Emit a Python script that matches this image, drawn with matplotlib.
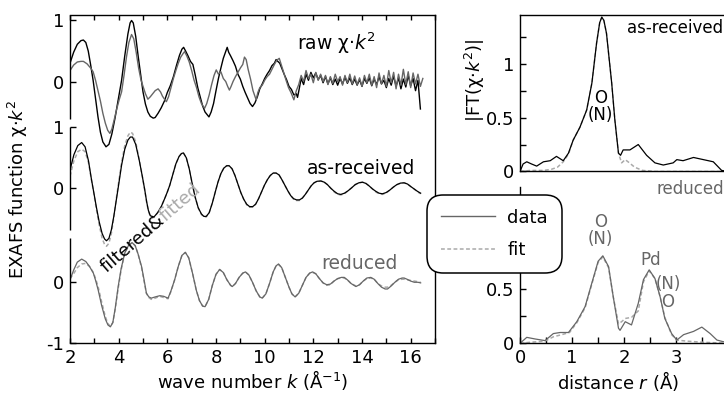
import numpy as np
import matplotlib
matplotlib.use('Agg')
import matplotlib.pyplot as plt
from matplotlib.lines import Line2D
from matplotlib.ticker import MultipleLocator

# ---- data: (k in 1/A, chi*k^2) ----
raw_black = [
    (2.0, 0.30), (2.15, 0.48), (2.3, 0.61), (2.45, 0.67), (2.55, 0.68), (2.65, 0.64), (2.75, 0.50),
    (2.85, 0.27), (2.95, 0.02), (3.05, -0.28), (3.15, -0.58), (3.25, -0.83), (3.35, -0.99), (3.48, -1.07),
    (3.6, -1.03), (3.72, -0.86), (3.85, -0.60), (3.98, -0.30), (4.12, 0.02), (4.25, 0.42), (4.38, 0.78),
    (4.47, 0.96), (4.53, 1.0), (4.6, 0.96), (4.7, 0.74), (4.8, 0.42), (4.9, 0.12), (5.0, -0.17),
    (5.1, -0.37), (5.2, -0.50), (5.3, -0.57), (5.42, -0.60), (5.5, -0.59), (5.62, -0.52), (5.75, -0.43),
    (5.88, -0.32), (6.0, -0.18), (6.12, -0.07), (6.25, 0.08), (6.38, 0.27), (6.5, 0.43), (6.6, 0.53),
    (6.67, 0.56), (6.75, 0.50), (6.85, 0.42), (6.95, 0.33), (7.05, 0.28), (7.15, 0.10), (7.25, -0.10),
    (7.35, -0.25), (7.45, -0.40), (7.55, -0.50), (7.65, -0.55), (7.71, -0.58), (7.8, -0.50), (7.9, -0.36),
    (8.0, -0.15), (8.1, 0.05), (8.2, 0.22), (8.3, 0.38), (8.4, 0.49), (8.46, 0.56), (8.52, 0.48),
    (8.6, 0.42), (8.7, 0.34), (8.8, 0.25), (8.9, 0.12), (9.0, 0.04), (9.1, -0.08), (9.2, -0.18),
    (9.3, -0.27), (9.4, -0.36), (9.5, -0.41), (9.6, -0.35), (9.7, -0.25), (9.8, -0.12), (9.9, -0.04),
    (10.0, 0.05), (10.1, 0.12), (10.2, 0.18), (10.3, 0.26), (10.4, 0.30), (10.47, 0.36), (10.54, 0.33),
    (10.62, 0.30), (10.7, 0.22), (10.8, 0.12), (10.9, 0.03), (11.0, -0.08), (11.1, -0.13), (11.2, -0.22),
    (11.3, -0.20), (11.35, -0.26), (11.42, -0.12),
    (11.5, 0.05), (11.6, -0.05), (11.7, 0.12), (11.8, 0.02), (11.9, 0.15), (12.0, 0.06), (12.1, 0.14),
    (12.2, 0.03), (12.3, 0.10), (12.4, -0.02), (12.5, 0.08), (12.6, -0.04), (12.7, 0.06), (12.8, -0.05),
    (12.9, 0.04), (13.0, -0.06), (13.1, 0.05), (13.2, -0.04), (13.3, 0.07), (13.4, -0.03), (13.5, 0.06),
    (13.6, -0.05), (13.7, 0.04), (13.8, -0.06), (13.9, 0.03), (14.0, -0.08), (14.1, 0.05), (14.2, -0.03),
    (14.3, 0.06), (14.4, -0.07), (14.5, 0.04), (14.6, -0.05), (14.7, 0.08), (14.8, -0.04), (14.9, 0.02),
    (15.0, -0.10), (15.1, 0.05), (15.2, -0.06), (15.3, 0.09), (15.4, -0.08), (15.5, 0.06), (15.6, -0.12),
    (15.7, 0.04), (15.8, -0.09), (15.9, 0.10), (16.0, -0.07), (16.1, 0.05), (16.2, -0.15), (16.3, 0.02),
    (16.4, -0.45),
]

raw_gray = [
    (2.0, 0.18), (2.15, 0.27), (2.3, 0.32), (2.45, 0.33), (2.55, 0.33), (2.7, 0.29), (2.85, 0.22),
    (2.95, 0.16), (3.05, 0.02), (3.15, -0.15), (3.25, -0.32), (3.35, -0.52), (3.45, -0.68), (3.55, -0.80),
    (3.64, -0.85), (3.72, -0.78), (3.82, -0.62), (3.92, -0.45), (4.02, -0.30), (4.12, -0.17), (4.22, 0.10),
    (4.32, 0.40), (4.42, 0.64), (4.53, 0.77), (4.62, 0.70), (4.72, 0.48), (4.82, 0.22), (4.92, 0.02),
    (5.0, -0.08), (5.1, -0.20), (5.2, -0.29), (5.3, -0.25), (5.4, -0.20), (5.5, -0.15), (5.62, -0.12),
    (5.72, -0.17), (5.8, -0.24), (5.9, -0.30), (5.96, -0.33), (6.05, -0.25), (6.15, -0.10), (6.25, 0.05),
    (6.35, 0.18), (6.45, 0.30), (6.55, 0.40), (6.65, 0.46), (6.71, 0.49), (6.8, 0.42), (6.9, 0.32),
    (7.0, 0.18), (7.1, 0.02), (7.2, -0.10), (7.3, -0.25), (7.4, -0.36), (7.53, -0.44), (7.62, -0.36),
    (7.72, -0.22), (7.82, -0.05), (7.92, 0.10), (8.01, 0.19), (8.1, 0.12), (8.2, 0.16), (8.3, 0.05),
    (8.4, 0.00), (8.48, -0.08), (8.55, -0.14), (8.62, -0.08), (8.7, 0.00), (8.8, 0.08), (8.9, 0.15),
    (9.0, 0.22), (9.1, 0.28), (9.17, 0.40), (9.24, 0.36), (9.32, 0.20), (9.42, 0.04), (9.52, -0.15),
    (9.6, -0.24), (9.65, -0.30), (9.72, -0.18), (9.8, -0.10), (9.9, -0.06), (10.0, 0.02), (10.1, 0.08),
    (10.2, 0.12), (10.3, 0.20), (10.4, 0.28), (10.5, 0.35), (10.6, 0.38), (10.68, 0.28), (10.78, 0.15),
    (10.88, 0.02), (10.98, -0.10), (11.08, -0.18), (11.2, -0.30), (11.3, -0.15),
    (11.4, -0.05), (11.5, 0.10), (11.6, 0.0), (11.7, 0.18), (11.8, 0.05), (11.9, 0.12), (12.0, -0.02),
    (12.1, 0.15), (12.2, 0.02), (12.3, 0.12), (12.4, 0.0), (12.5, 0.10), (12.6, -0.05), (12.7, 0.08),
    (12.8, -0.03), (12.9, 0.12), (13.0, 0.0), (13.1, 0.08), (13.2, -0.06), (13.3, 0.10), (13.4, -0.02),
    (13.5, 0.12), (13.6, -0.04), (13.7, 0.09), (13.8, -0.05), (13.9, 0.06), (14.0, -0.08), (14.1, 0.10),
    (14.2, -0.02), (14.3, 0.12), (14.4, -0.06), (14.5, 0.08), (14.6, -0.10), (14.7, 0.14), (14.8, -0.04),
    (14.9, 0.10), (15.0, -0.08), (15.1, 0.18), (15.2, -0.02), (15.3, 0.15), (15.4, -0.12), (15.5, 0.12),
    (15.6, -0.06), (15.7, 0.20), (15.8, -0.05), (15.9, 0.16), (16.0, -0.10), (16.1, 0.14), (16.2, -0.04),
    (16.3, 0.12), (16.4, -0.08), (16.5, 0.05),
]

# as-received, filtered data and fit share one k grid
k_as = [2.0, 2.16, 2.32, 2.48, 2.62, 2.76, 2.88, 2.97, 3.08, 3.2, 3.32, 3.42, 3.5, 3.6, 3.7, 3.8, 3.9,
        4.0, 4.12, 4.25, 4.38, 4.48, 4.57, 4.7, 4.85, 4.97, 5.07, 5.15, 5.22, 5.3, 5.45, 5.6, 5.75, 5.9,
        6.0, 6.1, 6.22, 6.35, 6.48, 6.58, 6.66, 6.78, 6.9, 7.02, 7.14, 7.27, 7.4, 7.5, 7.6, 7.72, 7.85,
        7.97, 8.08, 8.2, 8.32, 8.44, 8.54, 8.66, 8.78, 8.9, 9.02, 9.14, 9.26, 9.38, 9.51, 9.63, 9.75,
        9.87, 9.99, 10.11, 10.23, 10.35, 10.47, 10.59, 10.71, 10.83, 10.95, 11.07, 11.19, 11.31, 11.43,
        11.55, 11.67, 11.79, 11.91, 12.03, 12.15, 12.31, 12.45, 12.58, 12.72, 12.86, 13.0, 13.13, 13.28,
        13.43, 13.58, 13.72, 13.87, 14.02, 14.16, 14.29, 14.43, 14.57, 14.7, 14.84, 14.99, 15.14, 15.29,
        15.43, 15.58, 15.73, 15.87, 16.0, 16.14, 16.28, 16.41]
as_data = [0.30, 0.55, 0.70, 0.75, 0.68, 0.45, 0.15, -0.05, -0.30, -0.55, -0.74, -0.83, -0.86, -0.82,
           -0.68, -0.46, -0.20, 0.06, 0.38, 0.64, 0.79, 0.84, 0.84, 0.72, 0.45, 0.20, -0.02, -0.22, -0.36,
           -0.45, -0.47, -0.40, -0.30, -0.16, -0.06, 0.05, 0.22, 0.40, 0.52, 0.57, 0.58, 0.50, 0.32, 0.08,
           -0.14, -0.32, -0.42, -0.46, -0.46, -0.40, -0.24, -0.06, 0.10, 0.24, 0.33, 0.37, 0.37, 0.32,
           0.21, 0.07, -0.07, -0.18, -0.26, -0.30, -0.30, -0.26, -0.17, -0.06, 0.05, 0.14, 0.21, 0.25,
           0.25, 0.22, 0.14, 0.05, -0.04, -0.12, -0.17, -0.19, -0.19, -0.16, -0.10, -0.03, 0.04, 0.09,
           0.115, 0.12, 0.10, 0.06, 0.0, -0.05, -0.09, -0.10, -0.08, -0.04, 0.01, 0.06, 0.09, 0.10, 0.08,
           0.04, -0.01, -0.05, -0.08, -0.09, -0.07, -0.03, 0.02, 0.06, 0.085, 0.09, 0.07, 0.03, -0.01,
           -0.05, -0.08]
as_fit = [0.20, 0.45, 0.60, 0.64, 0.60, 0.42, 0.14, -0.06, -0.33, -0.60, -0.82, -0.92, -0.95, -0.90,
          -0.74, -0.48, -0.18, 0.10, 0.42, 0.70, 0.86, 0.92, 0.90, 0.76, 0.46, 0.20, -0.03, -0.23, -0.37,
          -0.46, -0.48, -0.40, -0.30, -0.16, -0.06, 0.05, 0.22, 0.40, 0.52, 0.57, 0.58, 0.50, 0.32, 0.08,
          -0.14, -0.32, -0.43, -0.47, -0.47, -0.40, -0.24, -0.06, 0.10, 0.24, 0.33, 0.37, 0.37, 0.32,
          0.21, 0.07, -0.07, -0.18, -0.27, -0.31, -0.31, -0.26, -0.17, -0.06, 0.05, 0.14, 0.21, 0.25,
          0.25, 0.22, 0.14, 0.05, -0.04, -0.12, -0.18, -0.20, -0.20, -0.16, -0.10, -0.03, 0.04, 0.09,
          0.11, 0.12, 0.10, 0.06, 0.0, -0.06, -0.10, -0.11, -0.09, -0.04, 0.01, 0.06, 0.09, 0.10, 0.08,
          0.04, -0.01, -0.06, -0.09, -0.10, -0.08, -0.03, 0.02, 0.06, 0.08, 0.09, 0.07, 0.03, -0.01,
          -0.06, -0.09]

k_red = [2.0, 2.15, 2.3, 2.48, 2.65, 2.8, 2.96, 3.06, 3.16, 3.3, 3.45, 3.56, 3.66, 3.76, 3.86, 3.98,
         4.1, 4.25, 4.4, 4.55, 4.68, 4.8, 4.94, 5.04, 5.14, 5.24, 5.34, 5.5, 5.69, 5.85, 6.03, 6.15, 6.3,
         6.45, 6.6, 6.74, 6.88, 7.04, 7.19, 7.32, 7.45, 7.55, 7.7, 7.85, 8.0, 8.15, 8.3, 8.45, 8.6, 8.67,
         8.8, 8.95, 9.1, 9.21, 9.35, 9.5, 9.65, 9.8, 9.9, 10.05, 10.2, 10.35, 10.47, 10.57, 10.7, 10.85,
         11.0, 11.12, 11.25, 11.4, 11.55, 11.7, 11.85, 11.97, 12.1, 12.25, 12.4, 12.55, 12.7, 12.85, 13.0,
         13.15, 13.27, 13.4, 13.55, 13.75, 13.9, 14.05, 14.2, 14.36, 14.5, 14.65, 14.8, 14.95, 15.05,
         15.2, 15.35, 15.5, 15.65, 15.73, 15.85, 16.0, 16.15, 16.3, 16.41]
red_data = [0.04, 0.20, 0.33, 0.38, 0.34, 0.26, 0.15, 0.02, -0.13, -0.38, -0.60, -0.70, -0.73, -0.66,
            -0.42, -0.07, 0.22, 0.48, 0.60, 0.65, 0.60, 0.46, 0.26, 0.05, -0.18, -0.24, -0.26, -0.24,
            -0.22, -0.23, -0.26, -0.14, 0.04, 0.26, 0.44, 0.49, 0.40, 0.14, -0.13, -0.30, -0.39, -0.40,
            -0.28, -0.05, 0.13, 0.21, 0.16, 0.04, -0.05, -0.07, -0.02, 0.08, 0.15, 0.17, 0.12, 0.0, -0.14,
            -0.24, -0.26, -0.19, -0.02, 0.17, 0.27, 0.30, 0.24, 0.08, -0.08, -0.19, -0.24, -0.18, -0.05,
            0.08, 0.15, 0.17, 0.14, 0.06, -0.01, -0.04, -0.03, 0.02, 0.06, 0.08, 0.08, 0.04, -0.02, -0.07,
            -0.04, 0.02, 0.07, 0.08, 0.05, -0.02, -0.08, -0.11, -0.11, -0.06, 0.0, 0.05, 0.07, 0.07, 0.05,
            0.02, 0.0, 0.0, -0.01]
red_fit = [0.06, 0.14, 0.24, 0.30, 0.31, 0.26, 0.16, 0.05, -0.08, -0.32, -0.56, -0.68, -0.72, -0.66,
           -0.44, -0.10, 0.20, 0.47, 0.60, 0.65, 0.60, 0.46, 0.24, 0.02, -0.18, -0.25, -0.28, -0.26,
           -0.23, -0.25, -0.27, -0.15, 0.04, 0.26, 0.44, 0.49, 0.40, 0.14, -0.13, -0.30, -0.39, -0.40,
           -0.28, -0.05, 0.13, 0.21, 0.16, 0.04, -0.05, -0.07, -0.02, 0.08, 0.15, 0.17, 0.12, 0.0, -0.14,
           -0.24, -0.26, -0.19, -0.02, 0.17, 0.27, 0.29, 0.24, 0.08, -0.08, -0.19, -0.24, -0.18, -0.05,
           0.08, 0.15, 0.16, 0.14, 0.06, -0.01, -0.05, -0.04, 0.02, 0.06, 0.07, 0.07, 0.04, -0.02, -0.06,
           -0.04, 0.02, 0.06, 0.07, 0.05, -0.02, -0.06, -0.08, -0.08, -0.05, 0.0, 0.04, 0.05, 0.05, 0.04,
           0.03, 0.02, 0.01, 0.0]

# Fourier transforms |FT(chi*k^2)| vs r (A)
r_asr = [0, 0.06, 0.13, 0.22, 0.32, 0.45, 0.58, 0.70, 0.83, 0.93, 1.02, 1.15, 1.28, 1.38, 1.47, 1.53,
         1.57, 1.61, 1.66, 1.76, 1.82, 1.89, 1.93, 1.98, 2.11, 2.27, 2.43, 2.59, 2.75, 2.94, 3.01, 3.13,
         3.33, 3.52, 3.71, 3.87, 4.0]
ft_asr = [0.0, 0.07, 0.09, 0.07, 0.05, 0.09, 0.10, 0.14, 0.10, 0.17, 0.29, 0.41, 0.57, 0.82, 1.19, 1.38,
          1.43, 1.40, 1.28, 0.82, 0.48, 0.17, 0.15, 0.20, 0.20, 0.25, 0.15, 0.08, 0.06, 0.08, 0.11, 0.10,
          0.13, 0.11, 0.09, 0.01, 0.0]
r_asr_fit = [0, 0.2, 0.45, 0.6, 0.72, 0.83, 0.93, 1.02, 1.15, 1.28, 1.38, 1.47, 1.53, 1.57, 1.61, 1.66,
             1.76, 1.82, 1.89, 1.95, 2.02, 2.1, 2.2, 2.35, 2.6, 4.0]
ft_asr_fit = [0.0, 0.01, 0.01, 0.02, 0.04, 0.09, 0.16, 0.29, 0.41, 0.57, 0.82, 1.19, 1.38, 1.43, 1.40,
              1.28, 0.82, 0.48, 0.17, 0.08, 0.11, 0.08, 0.04, 0.01, 0.0, 0.0]

r_red = [0, 0.13, 0.29, 0.48, 0.64, 0.77, 0.93, 1.09, 1.25, 1.38, 1.50, 1.59, 1.70, 1.79, 1.89, 1.92,
         2.02, 2.14, 2.27, 2.37, 2.48, 2.59, 2.69, 2.78, 2.91, 3.01, 3.14, 3.33, 3.49, 3.65, 3.78, 3.90, 4.0]
ft_red = [0, 0.055, 0.04, 0.025, 0.09, 0.10, 0.10, 0.20, 0.34, 0.56, 0.76, 0.81, 0.71, 0.43, 0.14, 0.12,
          0.20, 0.17, 0.37, 0.59, 0.68, 0.60, 0.43, 0.23, 0.09, 0.03, 0.08, 0.11, 0.15, 0.09, 0.03, 0.015,
          0.01]
r_red_fit = [0, 0.2, 0.48, 0.64, 0.80, 0.95, 1.09, 1.25, 1.38, 1.50, 1.59, 1.70, 1.79, 1.89, 1.95, 2.02,
             2.14, 2.27, 2.37, 2.48, 2.59, 2.69, 2.78, 2.91, 3.01, 3.2, 3.5, 4.0]
ft_red_fit = [0, 0.01, 0.02, 0.06, 0.08, 0.10, 0.19, 0.33, 0.55, 0.75, 0.80, 0.70, 0.43, 0.18, 0.20, 0.23,
              0.24, 0.30, 0.57, 0.67, 0.60, 0.43, 0.24, 0.08, 0.03, 0.02, 0.01, 0.0]

# vertical offsets of the stacked curves in the left panel
OFF_AS = 1.54
OFF_RAW = 3.29

C_DARK = '#666666'
C_FIT = '#aaaaaa'
FIT_LS = (0, (2.5, 1.6))

plt.rcParams['font.family'] = ['DejaVu Sans']
plt.rcParams['mathtext.fontset'] = 'dejavusans'
plt.rcParams['axes.linewidth'] = 1.0

W, H = 724, 405
fig = plt.figure(figsize=(W / 100, H / 100), dpi=100)


def px(x0, y0, x1, y1):
    # axes rectangle from pixel corners (top-left origin)
    return [x0 / W, 1 - y1 / H, (x1 - x0) / W, (y1 - y0) / H]


# ---- left panel: EXAFS functions ----
ax = fig.add_axes(px(70, 15, 435, 343.3))
kb, vb = zip(*raw_black)
kg, vg = zip(*raw_gray)
ax.plot(kb, np.array(vb) + OFF_RAW, color='k', lw=1.0)
ax.plot(kg, np.array(vg) + OFF_RAW, color=C_DARK, lw=1.0)
ax.plot(k_as, np.array(as_fit) + OFF_AS, color=C_FIT, lw=1.1, ls=FIT_LS)
ax.plot(k_as, np.array(as_data) + OFF_AS, color='k', lw=0.9)
ax.plot(k_red, red_fit, color=C_FIT, lw=1.1, ls=FIT_LS)
ax.plot(k_red, red_data, color=C_DARK, lw=0.9)

ax.set_xlim(2, 17)
ax.set_ylim(-1, 4.38)
ax.xaxis.set_major_locator(MultipleLocator(2))
ax.xaxis.set_minor_locator(MultipleLocator(1))
ax.xaxis.set_major_formatter(plt.FuncFormatter(lambda v, p: '%d' % v if v <= 16 else ''))
ax.set_yticks([-1, 0, OFF_AS, OFF_AS + 1, OFF_RAW, OFF_RAW + 1])
ax.set_yticklabels(['-1', '0', '0', '1', '0', '1'])
ax.tick_params(axis='x', which='both', direction='in', top=True, length=3.5, width=1.0,
               labelsize=13, pad=4)
ax.tick_params(axis='y', direction='in', length=4, width=1.0, labelsize=13, pad=4)

# broken left spine
ax.spines['left'].set_visible(False)
for a, b in [(-1, 0.72), (0.86, OFF_AS + 1), (OFF_AS + 1.14, 4.38)]:
    ax.plot([0, 0], [a, b], transform=ax.get_yaxis_transform(), color='k', lw=1.0,
            clip_on=False, solid_capstyle='butt')

ax.set_xlabel('wave number $k$ (Å$^{-1}$)', fontsize=13, labelpad=1)
fig.text(18 / W, 1 - 189 / H, 'EXAFS function χ·$k^2$', rotation=90, fontsize=13,
         ha='center', va='center')

ax.text(12.94, 3.92, 'raw χ·$k^2$', fontsize=13.5, ha='center', va='center')
ax.text(13.97, 1.87, 'as-received', fontsize=13.5, ha='center', va='center')
ax.text(13.89, 0.30, 'reduced', fontsize=13.5, ha='center', va='center', color=C_DARK)
ax.text(5.93, 0.99, 'filtered&', fontsize=13, rotation=41, rotation_mode='anchor',
        ha='right', va='baseline', color='k')
ax.text(5.93, 0.99, 'fitted', fontsize=13, rotation=41, rotation_mode='anchor',
        ha='left', va='baseline', color=C_FIT)

# ---- right panels: Fourier transforms ----
XR = 4.5
x_right = 520 + XR * 52.1
ax_u = fig.add_axes(px(520, 15, x_right, 171.5))
ax_l = fig.add_axes(px(520, 186.7, x_right, 343.3))

ax_u.plot(r_asr_fit, ft_asr_fit, color=C_FIT, lw=1.1, ls=FIT_LS)
ax_u.plot(r_asr, ft_asr, color='k', lw=0.9)
ax_l.plot(r_red_fit, ft_red_fit, color=C_FIT, lw=1.1, ls=FIT_LS)
ax_l.plot(r_red, ft_red, color=C_DARK, lw=0.9)

for a in (ax_u, ax_l):
    a.set_xlim(0, XR)
    a.set_ylim(0, 1.45)
    a.yaxis.set_major_locator(MultipleLocator(0.5))
    a.yaxis.set_minor_locator(MultipleLocator(0.25))
    a.yaxis.set_major_formatter(plt.FuncFormatter(lambda v, p: '%g' % v))
    a.tick_params(axis='y', which='both', direction='in', length=4, width=1.0, labelsize=13, pad=4)

ax_u.tick_params(axis='x', which='both', length=0, labelbottom=False)
ax_l.spines['top'].set_visible(False)
ax_l.spines['right'].set_visible(False)
ax_l.xaxis.set_major_locator(MultipleLocator(1))
ax_l.xaxis.set_minor_locator(MultipleLocator(0.5))
ax_l.tick_params(axis='x', which='both', direction='in', length=4, width=1.0, labelsize=13, pad=4)
ax_l.set_xlabel('distance $r$ (Å)', fontsize=13)
ax_l.xaxis.set_label_coords((618 - 520) / (x_right - 520), -0.165)

fig.text(475 / W, 1 - 80 / H, '|FT(χ·$k^2$)|', rotation=90, fontsize=13, ha='center', va='center')

ax_u.text(2.98, 1.33, 'as-received', fontsize=12, ha='center', va='center')
ax_u.text(1.54, 0.68, 'O', fontsize=12, ha='center', va='center')
ax_u.text(1.54, 0.52, '(N)', fontsize=12, ha='center', va='center')

ax_l.text(3.26, 1.43, 'reduced', fontsize=12, ha='center', va='center', color=C_DARK)
ax_l.text(1.55, 1.12, 'O', fontsize=12, ha='center', va='center', color=C_DARK)
ax_l.text(1.55, 0.97, '(N)', fontsize=12, ha='center', va='center', color=C_DARK)
ax_l.text(2.51, 0.77, 'Pd', fontsize=12, ha='center', va='center', color=C_DARK)
ax_l.text(2.84, 0.55, '(N)', fontsize=12, ha='center', va='center', color=C_DARK)
ax_l.text(2.84, 0.38, 'O', fontsize=12, ha='center', va='center', color=C_DARK)

# ---- shared legend ----
handles = [Line2D([], [], color=C_DARK, lw=1.0),
           Line2D([], [], color=C_FIT, lw=1.1, ls=FIT_LS)]
leg = fig.legend(handles, ['data', 'fit'], loc='upper left',
                 bbox_to_anchor=(427 / W, 1 - 195 / H), fontsize=13, handlelength=3.0,
                 handletextpad=0.7, borderpad=0.75, labelspacing=0.8, borderaxespad=0,
                 frameon=True, fancybox=True, framealpha=1)
frame = leg.get_frame()
frame.set_edgecolor('k')
frame.set_linewidth(1.1)
frame.set_boxstyle('round,pad=0,rounding_size=0.9')

fig.savefig('out.png', dpi=100)
